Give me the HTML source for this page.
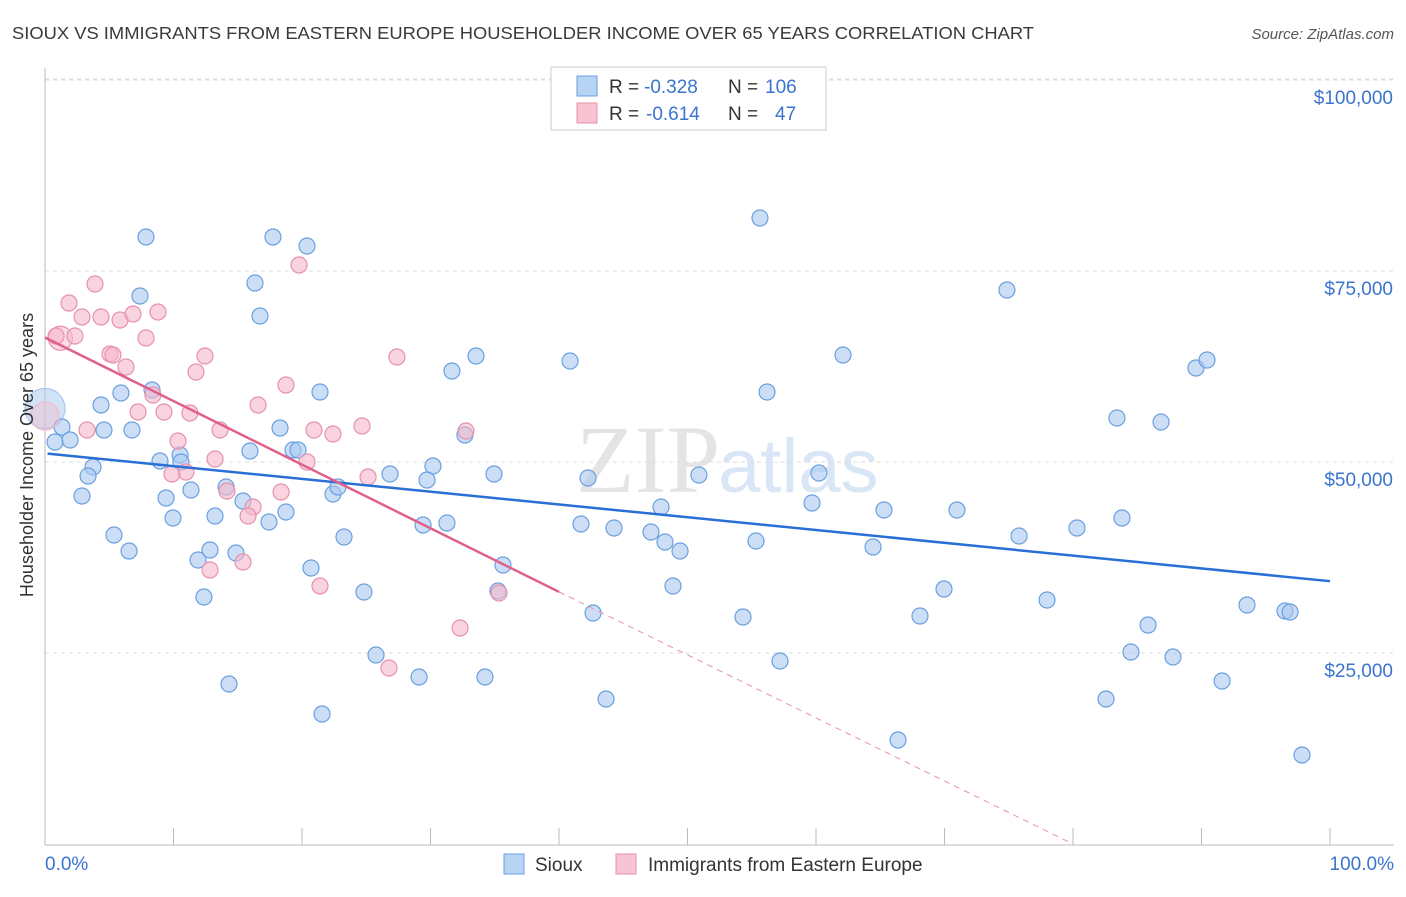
<!DOCTYPE html>
<html><head><meta charset="utf-8"><style>
body{margin:0;background:#fff;font-family:"Liberation Sans",sans-serif;}
</style></head><body>
<svg width="1406" height="892" xmlns="http://www.w3.org/2000/svg" style="font-family:'Liberation Sans',sans-serif">
<text x="12" y="39" font-size="17.5" fill="#3a3a3a" textLength="1022" lengthAdjust="spacingAndGlyphs">SIOUX VS IMMIGRANTS FROM EASTERN EUROPE HOUSEHOLDER INCOME OVER 65 YEARS CORRELATION CHART</text>
<text x="1394" y="39" font-size="15" fill="#555" text-anchor="end" font-style="italic">Source: ZipAtlas.com</text>
<text x="720" y="492" font-size="96" fill="#e4e4e4" text-anchor="end" font-family="Liberation Serif">ZIP</text>
<text x="718" y="492" font-size="76" fill="#d8e6f6">atlas</text>
<g id="grid"></g>
<g id="axes"></g>
<g id="pts"></g>
<g id="trends"></g>
<text x="33" y="455" font-size="18" fill="#333" text-anchor="middle" transform="rotate(-90 33 455)">Householder Income Over 65 years</text>
<g>
<rect x="551" y="67" width="275" height="63" fill="#fff" stroke="#ccc"/>
<rect x="577" y="76" width="20" height="20" fill="#b8d4f4" stroke="#6aa0e0"/>
<rect x="577" y="103" width="20" height="20" fill="#f8c4d4" stroke="#e890ad"/>
<text x="609" y="93" font-size="19" fill="#333">R =</text>
<text x="644" y="93" font-size="19" fill="#3a74d0">-0.328</text>
<text x="728" y="93" font-size="19" fill="#333">N =</text>
<text x="765" y="93" font-size="19" fill="#3a74d0">106</text>
<text x="609" y="120" font-size="19" fill="#333">R =</text>
<text x="646" y="120" font-size="19" fill="#3a74d0">-0.614</text>
<text x="728" y="120" font-size="19" fill="#333">N =</text>
<text x="775" y="120" font-size="19" fill="#3a74d0">47</text>
</g>
<g>
<rect x="504" y="854" width="20" height="20" fill="#b8d4f4" stroke="#6aa0e0"/>
<text x="535" y="871" font-size="19" fill="#333">Sioux</text>
<rect x="616" y="854" width="20" height="20" fill="#f8c4d4" stroke="#e890ad"/>
<text x="648" y="871" font-size="19" fill="#333">Immigrants from Eastern Europe</text>
</g>
</svg>
<script>
const yTicks=[25000,50000,75000,100000];
const yTickLabels=["$25,000","$50,000","$75,000","$100,000"];
const xTickLabels=["0.0%","100.0%"];
const bluePx=[[146,237],[273,237],[307,246],[760,218],[140,296],[255,283],[260,316],[1007,290],[476,356],[452,371],[570,361],[843,355],[1196,368],[1207,360],[767,392],[152,390],[320,392],[101,405],[121,393],[1117,418],[1161,422],[62,427],[104,430],[132,430],[280,428],[465,435],[55,442],[70,440],[93,467],[88,476],[160,461],[180,455],[181,462],[250,451],[293,450],[298,450],[433,466],[390,474],[427,480],[494,474],[588,478],[699,475],[819,473],[82,496],[166,498],[191,490],[226,487],[243,501],[333,494],[338,487],[812,503],[661,507],[884,510],[957,510],[173,518],[215,516],[269,522],[286,512],[423,525],[447,523],[581,524],[614,528],[651,532],[665,542],[680,551],[756,541],[1019,536],[1077,528],[1122,518],[114,535],[129,551],[198,560],[210,550],[236,553],[344,537],[311,568],[503,565],[873,547],[364,592],[498,591],[673,586],[944,589],[1047,600],[593,613],[743,617],[920,616],[1247,605],[1285,611],[1290,612],[1148,625],[204,597],[376,655],[780,661],[1131,652],[1173,657],[229,684],[419,677],[485,677],[1222,681],[322,714],[606,699],[1106,699],[898,740],[1302,755]];
const pinkPx=[[95,284],[299,265],[69,303],[82,317],[101,317],[120,320],[133,314],[158,312],[56,336],[75,336],[146,338],[110,354],[113,355],[126,367],[205,356],[196,372],[397,357],[286,385],[153,395],[138,412],[164,412],[190,413],[258,405],[362,426],[314,430],[333,434],[466,431],[87,430],[220,430],[178,441],[215,459],[307,462],[186,472],[172,474],[368,477],[227,491],[281,492],[253,507],[248,516],[243,562],[210,570],[320,586],[499,593],[460,628],[389,668]];
const blueX=bluePx.map(p=>+((p[0]-45)/12.85).toFixed(2));
const blueY=bluePx.map(p=>Math.round((844-p[1])/191*25000));
const pinkX=pinkPx.map(p=>+((p[0]-45)/12.85).toFixed(2));
const pinkY=pinkPx.map(p=>Math.round((844-p[1])/191*25000));
const sx=v=>45+v*12.85, sy=v=>844-v/25000*191;
const NS="http://www.w3.org/2000/svg";
function mk(t,a,parent){const e=document.createElementNS(NS,t);for(const k in a)e.setAttribute(k,a[k]);document.getElementById(parent).appendChild(e);return e;}
yTicks.forEach((v,i)=>{
 const l=mk('line',{x1:45,x2:1394,y1:sy(v),y2:sy(v),stroke:'#ddd','stroke-dasharray':'4 4'},'grid');
 
 
 const t=mk('text',{x:1393,y:sy(v)+24,'font-size':19,fill:'#3a74d0','text-anchor':'end'},'axes');
 t.textContent=yTickLabels[i];
 
 
});
mk('line',{x1:45,x2:1394,y1:79,y2:79,stroke:'#ddd','stroke-dasharray':'4 4'},'grid');
const ax=mk('line',{x1:45,x2:1394,y1:845,y2:845,stroke:'#bbb'},'axes');


const ay=mk('line',{x1:45,x2:45,y1:68,y2:845,stroke:'#bbb'},'axes');


for(let i=0;i<=10;i++){const tk=mk('line',{x1:sx(i*10),x2:sx(i*10),y1:828,y2:845,stroke:'#bbb'},'axes');
 
 }
[[45,'start'],[1394,'end']].forEach((p,i)=>{const t=mk('text',{x:p[0],y:870,'font-size':19,fill:'#3a74d0','text-anchor':p[1]},'axes');t.textContent=xTickLabels[i];
 
 });
function pt(x,y,r,f,s,name,op){const c=mk('circle',{cx:sx(x),cy:sy(y),r:r,fill:f,'fill-opacity':op||0.6,stroke:s,'stroke-width':1.2},'pts');
 
 }
pt(0,57000,20,'#a8c8f0','#a8c8f0','sioux-point-large',0.5);
blueX.forEach((x,i)=>pt(x,blueY[i],8,'#a8c8f0','#6aa0e0','sioux-point'));
pt(1.2,66200,12,'#f5b8cb','#e890ad','immigrants-point-large',0.5);
pt(0,56000,14,'#f5b8cb','#f5b8cb','immigrants-point-large',0.4);
pinkX.forEach((x,i)=>pt(x,pinkY[i],8,'#f5b8cb','#e890ad','immigrants-point'));
const bt=mk('line',{x1:sx(0.2),y1:sy(51100),x2:sx(100),y2:sy(34400),stroke:'#2a6fd6','stroke-width':2.5},'trends');


const pt1=mk('line',{x1:sx(0),y1:sy(66300),x2:sx(40),y2:sy(33000),stroke:'#e0608a','stroke-width':2.5},'trends');


const pt2=mk('line',{x1:sx(40),y1:sy(33000),x2:sx(80),y2:sy(0),stroke:'#e890ad','stroke-width':1,'stroke-dasharray':'6 5'},'trends');


</script>
</body></html>
